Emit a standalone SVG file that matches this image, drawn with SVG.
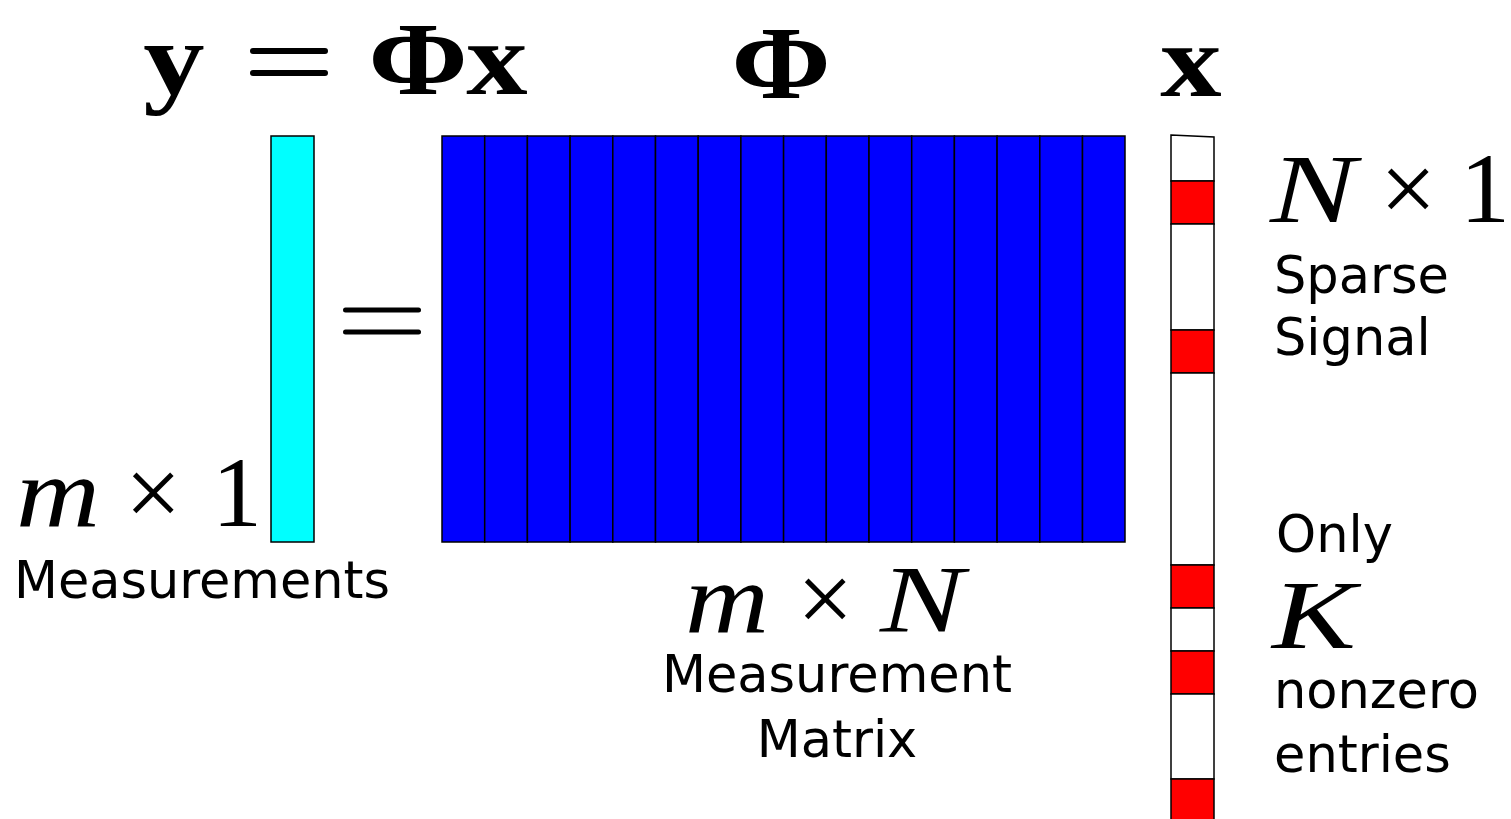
<svg xmlns="http://www.w3.org/2000/svg" width="1511" height="819" viewBox="0 0 1511 819">
<style>
.bold{font-family:"Liberation Serif","DejaVu Serif",serif;font-weight:bold;fill:#000;font-size:104px;text-anchor:middle}
.mi{font-family:"Liberation Serif","DejaVu Serif",serif;font-style:italic;fill:#000}
.mr{font-family:"Liberation Serif","DejaVu Serif",serif;fill:#000}
.sans{font-family:"DejaVu Sans","Liberation Sans",sans-serif;font-size:51px;fill:#000}
.col{fill:#0000ff;stroke:#000;stroke-width:1.5}
.wc{fill:#fff;stroke:#000;stroke-width:1.5}
.rc{fill:#ff0000;stroke:#000;stroke-width:1.5}
</style>
<rect width="1511" height="819" fill="#fff"/>
<g id="title">
<text class="bold" transform="translate(174,94) scale(1.18,1)">y</text>
<rect x="250" y="48" width="78" height="6" rx="3" fill="#000"/>
<rect x="250" y="70" width="78" height="6" rx="3" fill="#000"/>
<text class="bold" transform="translate(418,94) scale(1.15,1)">Φ</text>
<text class="bold" transform="translate(497,94) scale(1.18,1)">x</text>
</g>
<g id="phi-label"><text class="bold" transform="translate(781,98) scale(1.15,1)">Φ</text></g>
<g id="x-label"><text class="bold" transform="translate(1191,96) scale(1.18,1)">x</text></g>
<g id="y-vector">
<rect x="271" y="136" width="43" height="406" fill="#00ffff" stroke="#000" stroke-width="1.5"/>
</g>
<g id="equals">
<rect x="343" y="307.5" width="78" height="5" rx="2.5" fill="#000"/>
<rect x="343" y="329.5" width="78" height="5" rx="2.5" fill="#000"/>
</g>
<g id="matrix">
<rect class="col" x="442" y="136" width="42.7" height="406"/>
<rect class="col" x="484.7" y="136" width="42.7" height="406"/>
<rect class="col" x="527.4" y="136" width="42.7" height="406"/>
<rect class="col" x="570.1" y="136" width="42.7" height="406"/>
<rect class="col" x="612.8" y="136" width="42.7" height="406"/>
<rect class="col" x="655.5" y="136" width="42.7" height="406"/>
<rect class="col" x="698.2" y="136" width="42.7" height="406"/>
<rect class="col" x="740.9" y="136" width="42.7" height="406"/>
<rect class="col" x="783.6" y="136" width="42.7" height="406"/>
<rect class="col" x="826.3" y="136" width="42.7" height="406"/>
<rect class="col" x="869" y="136" width="42.7" height="406"/>
<rect class="col" x="911.7" y="136" width="42.7" height="406"/>
<rect class="col" x="954.4" y="136" width="42.7" height="406"/>
<rect class="col" x="997.1" y="136" width="42.7" height="406"/>
<rect class="col" x="1039.8" y="136" width="42.7" height="406"/>
<rect class="col" x="1082.5" y="136" width="42.5" height="406"/>
</g>
<g id="x-vector">
<polygon class="wc" points="1171,135 1214,137 1214,181 1171,181"/>
<rect class="rc" x="1171" y="181" width="43" height="43"/>
<rect class="wc" x="1171" y="224" width="43" height="106"/>
<rect class="rc" x="1171" y="330" width="43" height="43"/>
<rect class="wc" x="1171" y="373" width="43" height="192"/>
<rect class="rc" x="1171" y="565" width="43" height="43"/>
<rect class="wc" x="1171" y="608" width="43" height="43"/>
<rect class="rc" x="1171" y="651" width="43" height="43"/>
<rect class="wc" x="1171" y="694" width="43" height="85"/>
<rect class="rc" x="1171" y="779" width="43" height="45"/>
</g>
<g id="y-label">
<text class="mi" x="16" y="526" font-size="100" textLength="84" lengthAdjust="spacingAndGlyphs">m</text>
<text class="mr" x="125" y="526" font-size="100">×</text>
<text class="mr" x="212" y="526" font-size="100">1</text>
<text class="sans" x="14" y="598" textLength="376" lengthAdjust="spacingAndGlyphs">Measurements</text>
</g>
<g id="matrix-label">
<text class="mi" x="685" y="632" font-size="100" textLength="84" lengthAdjust="spacingAndGlyphs">m</text>
<text class="mr" x="797" y="632" font-size="100">×</text>
<text class="mi" x="880" y="632" font-size="95" textLength="84" lengthAdjust="spacingAndGlyphs">N</text>
<text class="sans" x="837" y="692" text-anchor="middle">Measurement</text>
<text class="sans" x="837" y="757" text-anchor="middle">Matrix</text>
</g>
<g id="signal-label">
<text class="mi" x="1270" y="222" font-size="97" textLength="86" lengthAdjust="spacingAndGlyphs">N</text>
<text class="mr" x="1380" y="222" font-size="100">×</text>
<text class="mr" x="1460" y="222" font-size="100">1</text>
<text class="sans" x="1274" y="293">Sparse</text>
<text class="sans" x="1274" y="355">Signal</text>
<text class="sans" x="1276" y="552">Only</text>
<text class="mi" x="1272" y="648" font-size="97" textLength="84" lengthAdjust="spacingAndGlyphs">K</text>
<text class="sans" x="1274" y="708">nonzero</text>
<text class="sans" x="1274" y="772">entries</text>
</g>
</svg>
